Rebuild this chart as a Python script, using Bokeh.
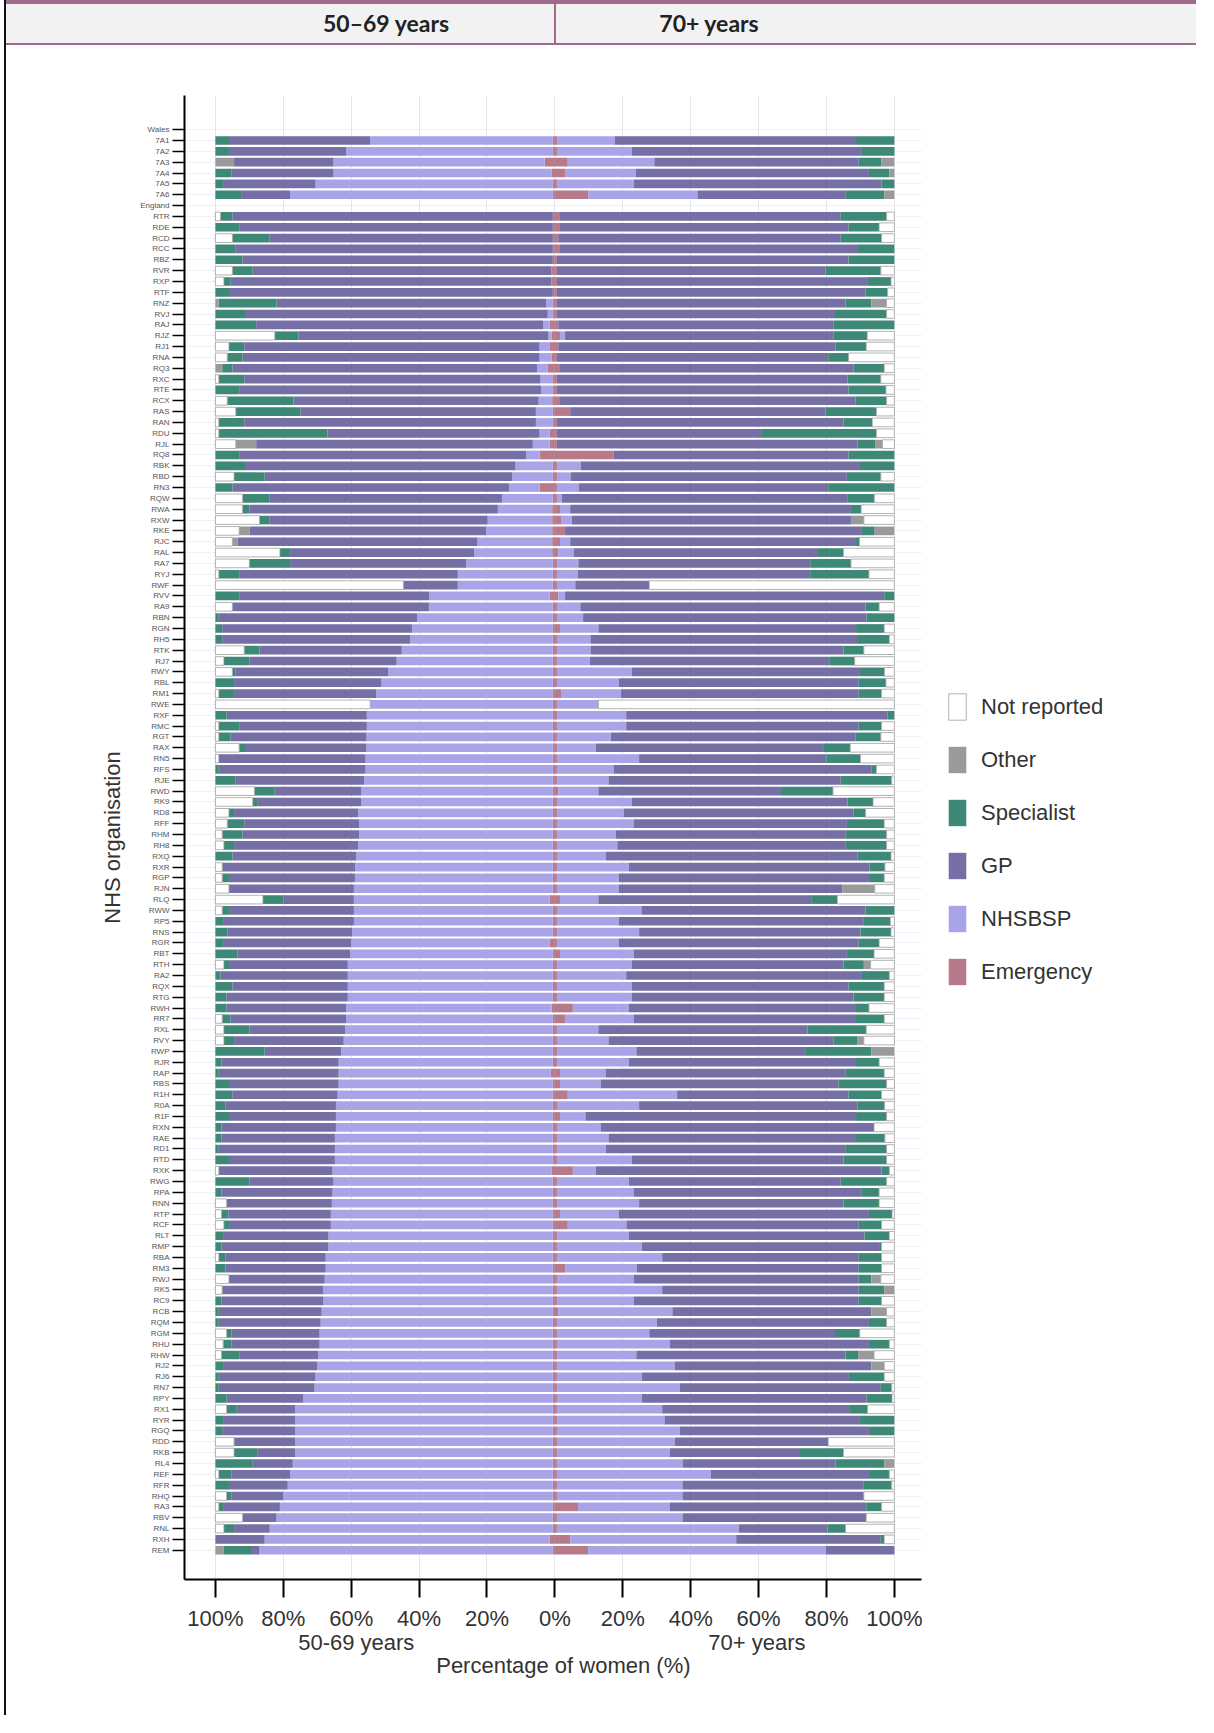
import numpy as np
from bokeh.plotting import figure
from bokeh.layouts import column
from bokeh.models import Range1d, FixedTicker, LinearAxis, Legend, LegendItem, ColumnDataSource, Div
from bokeh.embed import file_html
from bokeh.resources import INLINE

FONT = "Liberation Sans"

# header cells
header_labels = ["50\u201369 years", "70+ years"]
header_centres = [380, 703]
header_divider = 548

# row labels (top to bottom)
welsh_codes = ["7A1", "7A2", "7A3", "7A4", "7A5", "7A6"]
eng_codes = ["RTR", "RDE", "RCD", "RCC", "RBZ", "RVR", "RXP", "RTF", "RNZ", "RVJ",
             "RAJ", "RJZ", "RJ1", "RNA", "RQ3", "RXC", "RTE", "RCX", "RAS", "RAN",
             "RDU", "RJL", "RQ8", "RBK", "RBD", "RN3", "RQW", "RWA", "RXW", "RKE",
             "RJC", "RAL", "RA7", "RYJ", "RWF", "RVV", "RA9", "RBN", "RGN", "RH5",
             "RTK", "RJ7", "RWY", "RBL", "RM1", "RWE", "RXF", "RMC", "RGT", "RAX",
             "RN5", "RFS", "RJE", "RWD", "RK9", "RD8", "RFF", "RHM", "RH8", "RXQ",
             "RXR", "RGP", "RJN", "RLQ", "RWW", "RP5", "RNS", "RGR", "RBT", "RTH",
             "RA2", "RQX", "RTG", "RWH", "RR7", "RXL", "RVY", "RWP", "RJR", "RAP",
             "RBS", "R1H", "R0A", "R1F", "RXN", "RAE", "RD1", "RTD", "RXK", "RWG",
             "RPA", "RNN", "RTP", "RCF", "RLT", "RMP", "RBA", "RM3", "RWJ", "RK5",
             "RC9", "RCB", "RQM", "RGM", "RHU", "RHW", "RJ2", "RJ6", "RN7", "RPY",
             "RX1", "RYR", "RGQ", "RDD", "RKB", "RL4", "REF", "RFR", "RHQ", "RA3",
             "RBV", "RNL", "RXH", "REM"]

# ---- 50-69 years (% of women), 6 Welsh rows then 124 English rows ----
em_5069 = [0.6, 0.6, 3, 1, 0.6, 0.6,
           0.6, 0.6, 0.6, 0.6, 0.6, 1, 1, 0.6, 0.6, 0.6,
           1.5, 1, 1.5, 1, 2.2, 0.75, 0.6, 0.8, 0.6, 0.6,
           1.5, 1.5, 4.5, 0.6, 0.6, 4.5, 0.6, 0.8, 0.8, 0.8,
           0.8, 0.8, 0.6, 0.6, 0.6, 1.5, 0.6, 0.6, 0.6, 0.6,
           0.6, 0.6, 0.6, 0.6, 0.6, 0.6, 0.6, 0.6, 0.6, 0.6,
           0.6, 0.6, 0.6, 0.6, 0.6, 0.6, 0.6, 0.6, 0.6, 0.6,
           0.6, 0.6, 0.6, 1.5, 0.6, 0.6, 0.6, 1.5, 0.6, 0.6,
           0.6, 0.6, 0.6, 1, 0.6, 0.6, 0.6, 0.6, 0.6, 1.2,
           0.6, 0.6, 0.6, 0.6, 0.6, 0.6, 0.6, 0.6, 1, 0.6,
           0.6, 0.6, 0.6, 0.6, 0.6, 0.6, 0.6, 0.6, 0.6, 0.6,
           0.6, 0.6, 0.6, 0.6, 0.6, 0.6, 0.6, 0.6, 0.6, 0.6,
           0.6, 0.6, 0.6, 0.6, 0.6, 0.6, 0.6, 0.6, 0.6, 0.6,
           0.6, 0.6, 1.5, 0.6]
nhsbsp_5069 = [53.8, 60.9, 62.2, 64.2, 69.9, 77.4,
               0, 0, 0, 0, 0, 0, 0, 0, 2, 1.5,
               2, 1, 3, 3.5, 3, 3.5, 3.5, 4, 5, 5,
               3, 5, 4, 11, 12, 9, 15, 16, 19, 19.5,
               22, 23, 25.5, 28, 28, 35.5, 36.5, 40, 41.5, 42,
               44.5, 46, 48.5, 50.5, 52, 53.8, 54.8, 54.8, 54.9, 54.9,
               55.2, 55.2, 55.6, 56.4, 56.4, 57.4, 57.1, 57.1, 57.4, 57.9,
               58.2, 58.3, 58.6, 57.7, 58.6, 58.6, 59.1, 58.5, 59.7, 60.4,
               60.4, 60.4, 60.4, 60.5, 60.9, 61.2, 61.6, 62.4, 63.1, 62.5,
               63.1, 63.4, 63.9, 63.9, 63.9, 64.2, 64.2, 64.2, 64.5, 64.6,
               64.9, 65.1, 65.4, 65.4, 66.1, 66.1, 66.9, 66.9, 67.2, 67.6,
               67.6, 68.1, 68.4, 68.7, 68.7, 69.1, 69.4, 69.9, 70.2, 73.6,
               75.9, 75.9, 75.9, 75.9, 75.9, 76.6, 77.4, 78.1, 79.4, 80.4,
               81.4, 83.4, 84, 86.4]
gp_5069 = [41.6, 34.5, 29.3, 30, 27, 14.2,
           94.4, 92.4, 83.4, 93.4, 91.4, 88, 94.5, 95.4, 79.4, 88.9,
           84.5, 73.5, 87, 87.5, 89.8, 87.25, 88.9, 72.2, 69.4, 85.9,
           62.5, 81.5, 84.5, 79.4, 72.9, 81.5, 68.4, 73.2, 64.2, 69.7,
           70.7, 54.2, 51.9, 64.4, 16, 56, 57.9, 58.4, 55.9, 55.4,
           41.9, 43.4, 44.9, 43.4, 41.9, 0, 41.3, 37.6, 40, 35.5,
           43.2, 43.2, 37.8, 25.5, 30.5, 36.5, 33.8, 34.3, 36.5, 36.5,
           39.2, 37.1, 36.8, 20.8, 36.8, 38.3, 36.8, 37.5, 33.2, 35,
           37.5, 34, 35.7, 35.2, 34, 28.2, 32.3, 22.5, 34.5, 35.3,
           32.3, 31, 32.5, 31.5, 33.7, 33.4, 34.2, 31.2, 33.5, 24.8,
           32.7, 31, 30.2, 30, 30.8, 31.5, 29.5, 29.5, 28.2, 29.8,
           30, 30.3, 30, 25.9, 25.9, 23.3, 27.5, 28.5, 28.2, 22.5,
           17.2, 21, 21.5, 18, 11, 11.8, 17.2, 17.3, 15.2, 16.5,
           10, 10.5, 14.5, 2.5]
spec_5069 = [4, 4, 0, 4.8, 2.5, 7.8,
             3.5, 7, 11, 6, 8, 6, 2, 4, 17, 9,
             12, 7, 4.5, 4.5, 3, 7.5, 7, 19.5, 19, 7.5,
             32, 0, 7, 9, 9, 5, 8, 2, 3, 0,
             0, 3, 12, 6, 0, 7, 0, 1, 2, 2,
             4.5, 7.5, 1, 5.5, 4.5, 0, 3.3, 6, 3.5, 2,
             0, 1, 6, 6, 1.5, 1.5, 5, 6, 3, 5,
             0, 2, 0, 6, 2, 2.5, 3.5, 2.5, 6.5, 1.5,
             1.5, 5, 3.3, 3.3, 2.5, 7.5, 3, 14.5, 1.8, 1,
             4, 5, 3, 4, 1.8, 1.8, 1, 4, 0, 10,
             1.8, 0, 2, 1.5, 2.5, 1.8, 2, 3, 0, 0,
             1.8, 1, 1, 1.5, 2.5, 5.2, 2.5, 1, 1, 3.3,
             3, 2.5, 2, 0, 7, 11, 3.8, 4, 1.5, 1.5,
             0, 3, 0, 8]
other_5069 = [0, 0, 5.5, 0, 0, 0,
              0, 0, 0, 0, 0, 0, 0, 0, 1, 0,
              0, 0, 0, 0, 2, 0, 0, 0, 0, 0,
              0, 6, 0, 0, 0, 0, 0, 0, 0, 3,
              1.5, 0, 0, 0, 0, 0, 0, 0, 0, 0,
              0, 0, 0, 0, 0, 0, 0, 0, 0, 0,
              0, 0, 0, 0, 0, 0, 0, 0, 0, 0,
              0, 0, 0, 0, 0, 0, 0, 0, 0, 0,
              0, 0, 0, 0, 0, 0, 0, 0, 0, 0,
              0, 0, 0, 0, 0, 0, 0, 0, 0, 0,
              0, 0, 0, 0, 0, 0, 0, 0, 0, 0,
              0, 0, 0, 0, 0, 0, 0, 0, 0, 0,
              0, 0, 0, 0, 0, 0, 0, 0, 0, 0,
              0, 0, 0, 2.5]
notrep_5069 = [0, 0, 0, 0, 0, 0,
               1.5, 0, 5, 0, 0, 5, 2.5, 0, 0, 0,
               0, 17.5, 4, 3.5, 0, 1, 0, 3.5, 6, 1,
               1, 6, 0, 0, 5.5, 0, 8, 8, 13, 7,
               5, 19, 10, 1, 55.4, 0, 5, 0, 0, 0,
               8.5, 2.5, 5, 0, 1, 45.6, 0, 1, 1, 7,
               1, 0, 0, 11.5, 11, 4, 3.5, 2, 2.5, 0,
               2, 2, 4, 14, 2, 0, 0, 0, 0, 2.5,
               0, 0, 0, 0, 2, 2.5, 2.5, 0, 0, 0,
               0, 0, 0, 0, 0, 0, 0, 0, 1, 0,
               0, 3.3, 1.8, 2.5, 0, 0, 1, 0, 4, 2,
               0, 0, 0, 3.3, 2.3, 1.8, 0, 0, 0, 0,
               3.3, 0, 0, 5.5, 5.5, 0, 1, 0, 3.3, 1,
               8, 2.5, 0, 0]

# ---- 70+ years (% of women) ----
em_70 = [0.6, 0.6, 3.8, 3, 0.6, 9.8,
         1.5, 1.5, 1, 1.5, 0.6, 0.6, 0.6, 0.6, 0.6, 0.6,
         1, 1.5, 1, 0.6, 1.5, 0.6, 0.6, 1.5, 4.5, 0.6,
         0.6, 0.6, 17.3, 0.6, 0.6, 0.6, 0.6, 1.5, 2, 3,
         1.5, 1, 0.6, 0.6, 0.6, 1, 0.6, 0.6, 1.5, 0.6,
         0.6, 0.6, 0.6, 0.6, 2, 0.6, 0.6, 0.6, 0.6, 0.6,
         0.6, 0.6, 0.6, 1, 0.6, 0.6, 0.6, 0.6, 0.6, 0.6,
         0.6, 0.6, 0.6, 1.5, 0.6, 0.6, 0.6, 0.6, 1.5, 0.6,
         0.6, 0.6, 0.6, 5.3, 3, 0.6, 0.6, 0.6, 0.6, 1.5,
         1.5, 3.8, 0.6, 1.5, 0.6, 0.6, 0.6, 0.6, 5.3, 0.6,
         0.6, 0.6, 1.5, 3.8, 0.6, 0.6, 0.6, 3, 0.6, 0.6,
         0.6, 1, 0.6, 0.6, 0.6, 0.6, 0.6, 0.6, 0.6, 0.6,
         0.6, 0.6, 0.6, 0.6, 0.6, 0.6, 0.6, 0.6, 0.6, 6.8,
         0.6, 0.6, 4.5, 9.8]
nhsbsp_70 = [17.1, 22, 25.5, 20.8, 22.7, 32.2,
             0, 0, 0, 0, 0, 0, 0, 0, 0, 0,
             0, 1.5, 0, 0, 0, 0, 0, 0, 0, 0,
             0, 0, 0, 7, 4, 6.4, 1.5, 3, 3, 0,
             3, 4.5, 6.3, 6.2, 5.4, 2, 6.9, 7.7, 11.3, 9.9,
             9.9, 9.7, 22, 18.2, 17.5, 12.2, 20.4, 20.4, 15.9, 11.4,
             24.2, 16.7, 15.2, 11.8, 22, 19.7, 22.7, 17.4, 17.8, 14.4,
             21.2, 18.2, 18.2, 11.3, 24.9, 18.2, 24.2, 18.2, 21.8, 22,
             20.4, 22, 22, 16.5, 20.3, 12.2, 15.2, 23.4, 21.2, 13.5,
             12, 32.2, 24.2, 7.5, 12.9, 15.2, 14.4, 22, 6.7, 21.2,
             22.7, 24.2, 17.3, 17.3, 21.2, 25, 31, 21.1, 22.7, 31,
             22.7, 33.6, 29.4, 27.2, 33.2, 23.4, 34.7, 25, 36.2, 25,
             31, 31.7, 36.2, 34.7, 33.2, 37, 45.3, 37, 37, 27,
             37, 53.5, 48.9, 70]
gp_70 = [71, 67.6, 60.2, 68.7, 72.9, 43.7,
         82.7, 85, 83.2, 87.5, 85.9, 79.1, 91.6, 90.9, 85, 81.9,
         81, 79, 81.7, 79.9, 86.5, 85.6, 85.9, 87, 75.2, 84.4,
         60.4, 88.5, 69.2, 82, 81.4, 73.5, 84, 82.7, 82.2, 87.2,
         84.2, 72, 68.3, 68.4, 21.8, 94, 84, 83.5, 75.9, 78.5,
         74.5, 70.5, 67, 70.7, 70, 0, 77, 68.5, 72, 67,
         55.2, 75.9, 68.4, 54.1, 63.6, 67.7, 62.7, 67.7, 67.3, 74.2,
         70.9, 73.7, 65.9, 62.9, 66, 72, 65.2, 70.7, 62.7, 62.4,
         69.2, 63.9, 65.4, 66.9, 65.4, 61.6, 66.2, 49.7, 66.9, 70.7,
         70, 50.5, 64.3, 79.7, 80.5, 72.9, 70.7, 62.4, 84.2, 62.4,
         66.9, 60.2, 73.7, 68.4, 69.4, 69.9, 57.9, 65.4, 66.2, 57.9,
         66.2, 58.6, 62.5, 54.7, 58.7, 61.6, 57.9, 61, 59.2, 66.2,
         55.3, 57.3, 55.7, 45.2, 38.4, 45.1, 46.6, 53.4, 53.4, 57.9,
         54.1, 26.2, 42.6, 20.2]
spec_70 = [11.3, 9.8, 6.7, 6, 3.8, 11.3,
           13.5, 9, 12, 11, 13.5, 16.3, 6.8, 6.5, 7.6, 15.2,
           18, 10, 9, 6, 9, 9.8, 11, 9.2, 15, 8.5,
           33.7, 5.2, 13.5, 10.4, 10, 19.5, 8, 3, 0, 3.8,
           1, 7.5, 12, 17.3, 0, 3, 4, 8.2, 8.3, 9.5,
           6, 7.5, 7.5, 8, 6.7, 0, 2, 6.7, 7.5, 8,
           10, 1.5, 15, 15, 7.5, 3.5, 11, 12, 12, 9.8,
           4.5, 4.5, 0, 7.5, 8.5, 8, 9, 6, 8, 6,
           8.3, 10.5, 9, 3.8, 8.3, 17.3, 7, 19.5, 6.8, 11.3,
           14.2, 9.7, 8, 9, 0, 8.5, 12, 12.7, 2.3, 13.5,
           5.3, 10.5, 6.8, 6.7, 7.3, 0.7, 6.7, 6.7, 3.7, 7.5,
           6.7, 0, 5.2, 7.3, 6, 3.7, 0, 10.4, 3.2, 7.5,
           5.2, 10.4, 7.5, 0, 12.8, 14.3, 6, 8.2, 0, 4.5,
           0, 5.3, 1, 0]
other_70 = [0, 0, 3.8, 1.5, 0, 3,
            0, 0, 0, 0, 0, 0, 0, 0, 4.5, 0,
            0, 0, 0, 0, 0, 0, 0, 0, 0, 0,
            0, 2.2, 0, 0, 0, 0, 0, 0, 3.8, 6,
            0, 0, 0, 0, 0, 0, 0, 0, 0, 0,
            0, 0, 0, 0, 0, 0, 0, 0, 0, 0,
            0, 0, 0, 0, 0, 0, 0, 0, 0, 0,
            0, 0, 9.5, 0, 0, 0, 0, 0, 0, 2,
            0, 0, 0, 0, 0, 0, 2, 6.8, 0, 0,
            0, 0, 0, 0, 0, 0, 0, 0, 0, 0,
            0, 0, 0, 0, 0, 0, 0, 0, 2.8, 3,
            0, 4.5, 0, 0, 0, 4.7, 3.8, 0, 0, 0,
            0, 0, 0, 0, 0, 3, 0, 0, 0, 0,
            0, 0, 0, 0]
notrep_70 = [0, 0, 0, 0, 0, 0,
             2.3, 4.5, 3.8, 0, 0, 4, 1, 2, 2.3, 2.3,
             0, 8, 8.3, 13.5, 3, 4, 2.5, 2.3, 5.3, 6.5,
             5.3, 3.5, 0, 0, 4, 0, 5.9, 9.8, 9, 0,
             10.3, 15, 12.8, 7.5, 72.2, 0, 4.5, 0, 3, 1.5,
             9, 11.7, 2.9, 2.5, 3.8, 87.2, 0, 3.8, 4, 13,
             10, 5.3, 0.8, 18.1, 6.3, 8.5, 3, 2.3, 2.3, 1,
             2.8, 3, 5.8, 16.8, 0, 1.2, 1, 4.5, 6, 7,
             1.5, 3, 3, 7.5, 3, 8.3, 9, 0, 4.5, 3,
             2.3, 3.8, 2.9, 2.3, 6, 2.8, 2.3, 2.3, 1.5, 2.3,
             4.5, 4.5, 0.7, 3.8, 1.5, 3.8, 3.8, 3.8, 4, 0,
             3.8, 2.3, 2.3, 10.2, 1.5, 6, 3, 3, 0.8, 0.7,
             7.9, 0, 0, 19.5, 15, 0, 1.5, 0.8, 9, 3.8,
             8.3, 14.4, 3, 0]

pct_ticks = [-100, -80, -60, -40, -20, 0, 20, 40, 60, 80, 100]
pct_labels = ["100%", "80%", "60%", "40%", "20%", "0%", "20%", "40%", "60%", "80%", "100%"]
group_ticks = [-58.5, 59.5]
group_labels = ["50-69 years", "70+ years"]
title_tick = [2.5]
title_label = ["Percentage of women (%)"]

cats = ["Emergency", "NHSBSP", "GP", "Specialist", "Other", "Not reported"]
colors = {"Emergency": "#b67a8b", "NHSBSP": "#a9a3e8", "GP": "#766fa6",
          "Specialist": "#3d8877", "Other": "#9a9a9a", "Not reported": "#ffffff"}

left_vals = [em_5069, nhsbsp_5069, gp_5069, spec_5069, other_5069, notrep_5069]
right_vals = [em_70, nhsbsp_70, gp_70, spec_70, other_70, notrep_70]
assert all(len(a) == 130 for a in left_vals + right_vals)
assert len(eng_codes) == 124

# row positions: 0 = Wales, 1-6 Welsh boards, 7 = England, 8-131 English trusts
ypos = np.array(list(range(1, 7)) + list(range(8, 132)))
row_labels = {0: "Wales", 7: "England"}
for i, c in enumerate(welsh_codes):
    row_labels[i + 1] = c
for i, c in enumerate(eng_codes):
    row_labels[i + 8] = c

W = 1190
BORDER_L, BORDER_R, BORDER_T, BORDER_B = 178, 10, 50, 136
PX_PER_PCT = 3.395          # horizontal scale of the chart
X0, AXIS_END = -109.1, 108  # visible axis extent; the frame runs further right for the legend
x_end = X0 + (W - BORDER_L - BORDER_R) / PX_PER_PCT

# ---------------- header band (table heading above the chart) ----------------
spans = "".join(
    f'<span style="position:absolute;left:{x}px;top:19px;transform:translate(-50%,-50%);'
    f'white-space:nowrap">{t}</span>'
    for x, t in zip(header_centres, header_labels))
header = Div(
    text=(f'<div style="position:relative;box-sizing:border-box;width:{W}px;height:45px;'
          f'background:#f2f2f2;border-top:4px solid #a06a8c;border-bottom:2px solid #a06a8c;'
          f'font-family:Lato;font-weight:bold;font-size:23px;color:#222222;">'
          f'<div style="position:absolute;left:{header_divider}px;top:0;width:2px;height:39px;'
          f'background:#a06a8c"></div>{spans}</div>'),
    width=W, height=45, margin=0)

# ---------------- main chart ----------------
p = figure(width=W, height=1670, x_range=Range1d(X0, x_end), y_range=Range1d(133.7, -3.15),
           output_backend="svg", toolbar_location=None, title=None,
           min_border_left=BORDER_L, min_border_right=BORDER_R,
           min_border_top=BORDER_T, min_border_bottom=BORDER_B)
p.outline_line_color = None
p.margin = 0

renderers = {}
for vals, sign in [(left_vals, -1), (right_vals, 1)]:
    start = np.zeros(len(ypos))
    for cat, v in zip(cats, vals):
        v = np.array(v, dtype=float)
        end = start + v
        keep = v > 0
        a = sign * start[keep]
        b = sign * end[keep]
        src = ColumnDataSource(dict(y=ypos[keep], l=np.minimum(a, b), r=np.maximum(a, b)))
        lc = "#a0a0a0" if cat == "Not reported" else None
        renderers[cat] = p.hbar(y="y", left="l", right="r", height=0.8, source=src,
                                fill_color=colors[cat], line_color=lc, line_width=0.8)
        start = end

xa = p.xaxis[0]
xa.bounds = (X0, AXIS_END)
xa.ticker = FixedTicker(ticks=pct_ticks)
xa.major_label_overrides = dict(zip(pct_ticks, pct_labels))
xa.major_label_text_font = FONT
xa.major_label_text_font_size = "22px"
xa.major_label_text_color = "#333333"
xa.major_label_standoff = 8
xa.axis_line_width = 2
xa.axis_line_color = "black"
xa.major_tick_out = 18
xa.major_tick_in = 0
xa.major_tick_line_width = 2
xa.minor_tick_line_color = None


def text_axis(ticks, labels, standoff):
    # an x axis that only carries text lines under the percentage scale
    ax = LinearAxis(ticker=FixedTicker(ticks=ticks),
                    major_label_overrides=dict(zip(ticks, labels)))
    ax.axis_line_color = None
    ax.major_tick_line_color = None
    ax.minor_tick_line_color = None
    ax.major_tick_out = 0
    ax.major_tick_in = 0
    ax.major_label_standoff = standoff
    ax.major_label_text_font = FONT
    ax.major_label_text_font_size = "22px"
    ax.major_label_text_color = "#333333"
    return ax


p.add_layout(text_axis(group_ticks, group_labels, -4), "below")
p.add_layout(text_axis(title_tick, title_label, -5), "below")

ya = p.yaxis[0]
ya.ticker = FixedTicker(ticks=list(range(132)))
ya.major_label_overrides = row_labels
ya.major_label_text_font = FONT
ya.major_label_text_font_size = "8px"
ya.major_label_text_color = "#555555"
ya.major_label_standoff = 3
ya.axis_line_width = 2
ya.axis_line_color = "black"
ya.major_tick_out = 12
ya.major_tick_in = 0
ya.major_tick_line_width = 1.5
ya.minor_tick_line_color = None
ya.axis_label = "NHS organisation"
ya.axis_label_text_font = FONT
ya.axis_label_text_font_size = "22px"
ya.axis_label_text_font_style = "normal"
ya.axis_label_text_color = "#333333"
ya.axis_label_standoff = 12

p.xgrid.ticker = FixedTicker(ticks=pct_ticks)
p.xgrid.grid_line_color = "#e6e6e6"
p.ygrid.ticker = FixedTicker(ticks=list(range(132)))
p.ygrid.grid_line_color = "#dde3ee"
p.ygrid.grid_line_dash = "2 2"
if "cross_bounds" in p.ygrid[0].properties():
    p.ygrid.cross_bounds = (X0, AXIS_END)

# legend sits right of the axis end (offset in screen pixels from the frame's bottom-left)
legend = Legend(items=[LegendItem(label=c, renderers=[renderers[c]]) for c in reversed(cats)],
                location=(762, 591))
legend.label_text_font = FONT
legend.label_text_font_size = "22px"
legend.label_text_color = "#333333"
legend.glyph_width = 22
legend.glyph_height = 33
legend.spacing = 20
legend.label_standoff = 13
legend.border_line_color = None
legend.background_fill_alpha = 0
legend.padding = 4
legend.margin = 0
p.add_layout(legend)

layout = column(header, p, styles={"border-left": "2px solid #111111", "margin-left": "4px"})
open("out.html", "w").write(file_html(layout, INLINE))
